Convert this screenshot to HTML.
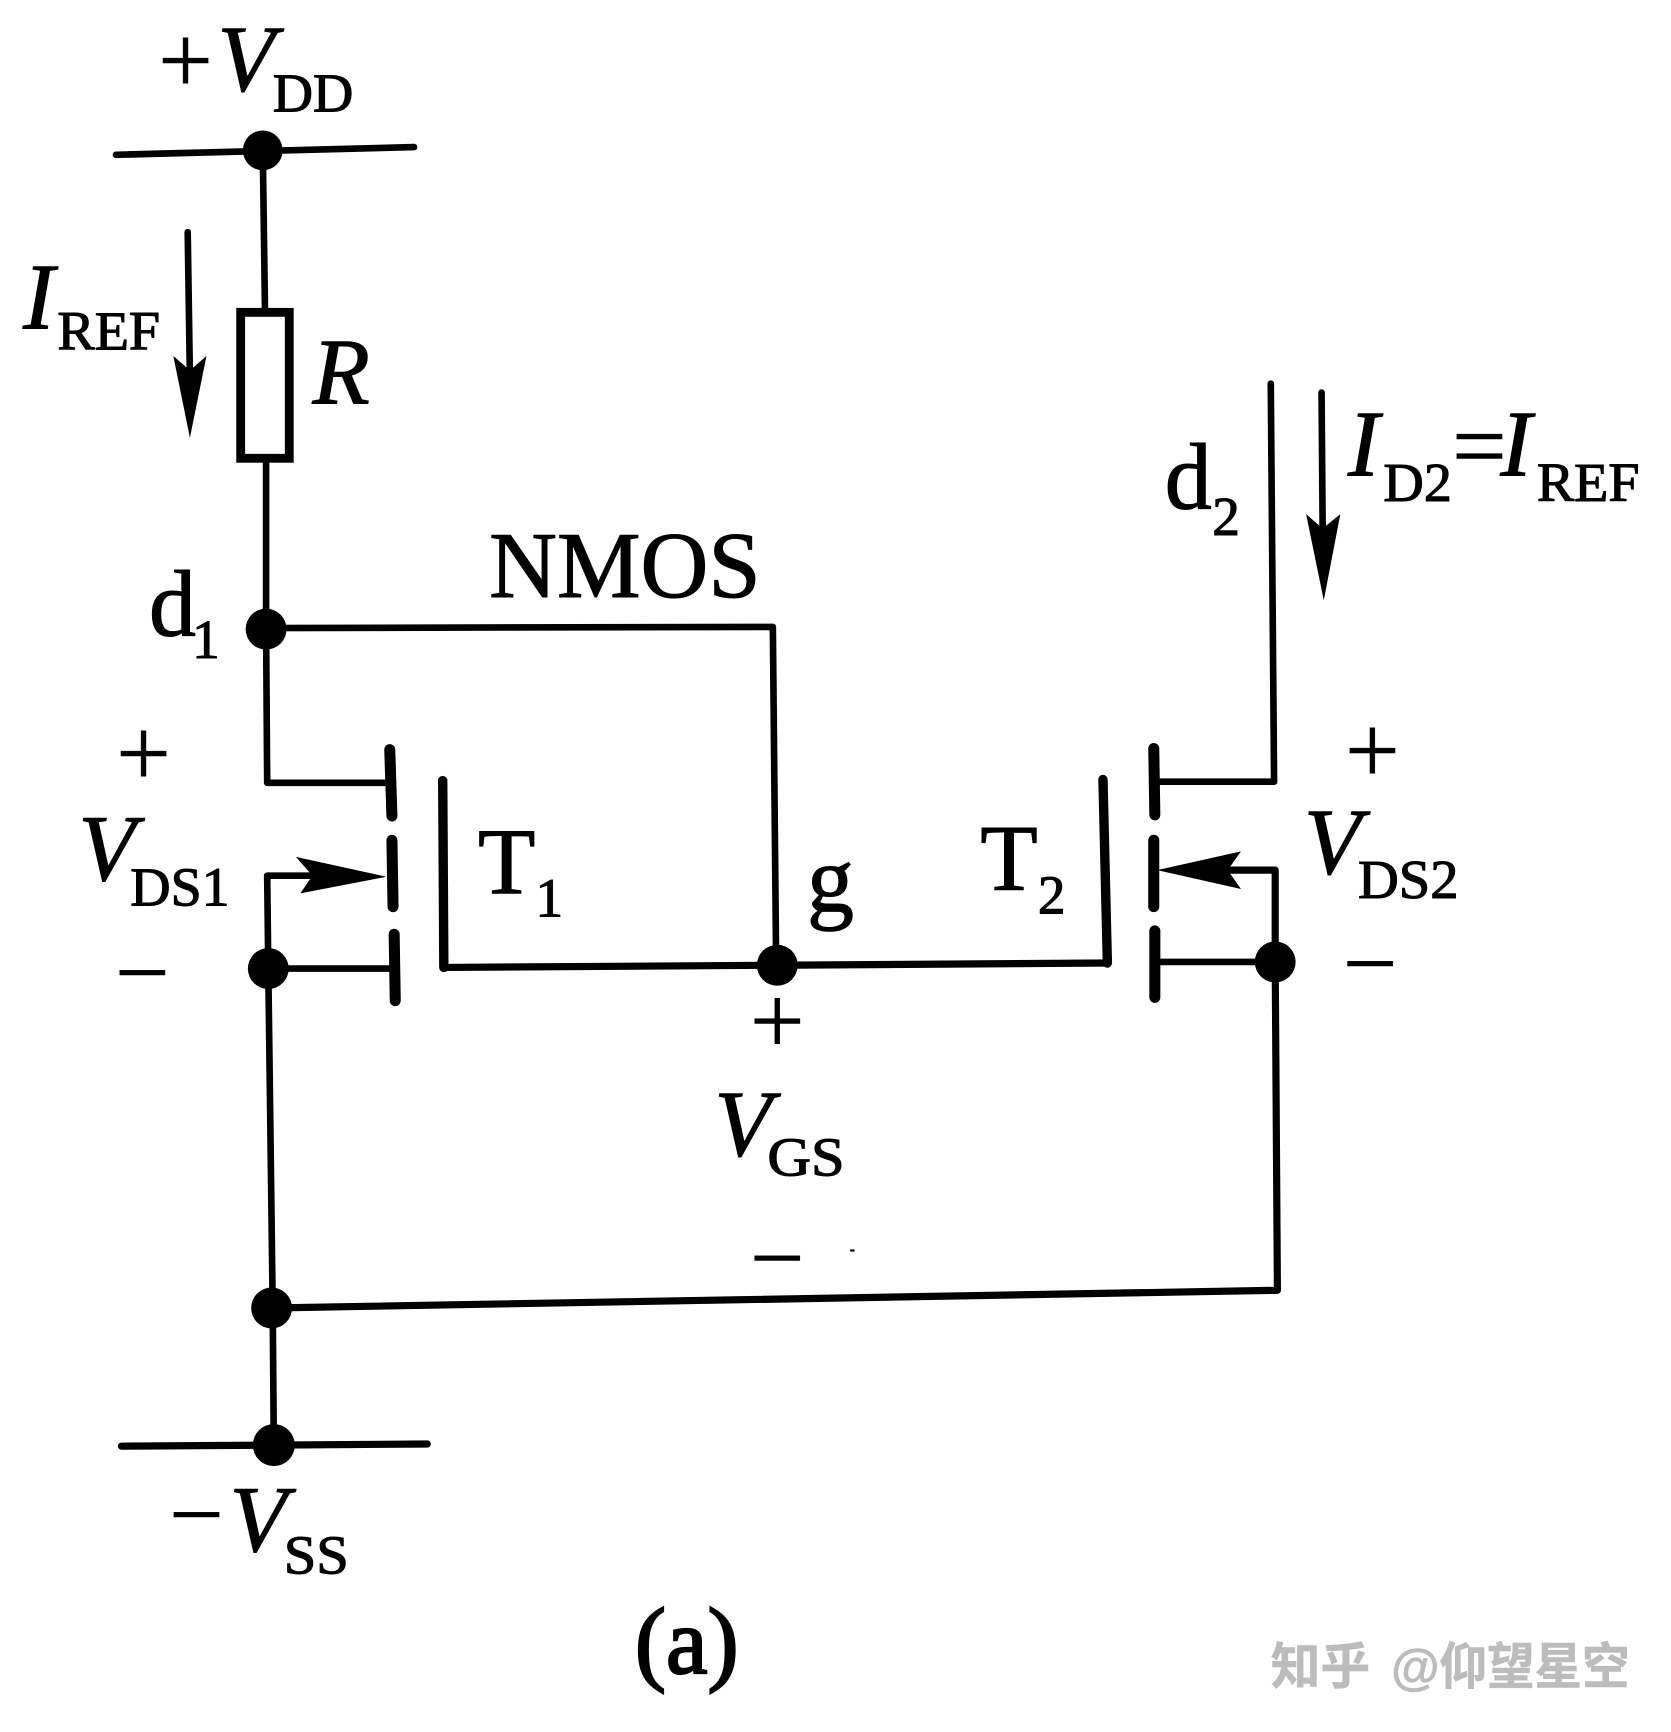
<!DOCTYPE html>
<html><head><meta charset="utf-8"><style>
html,body{margin:0;padding:0;background:#fff}
svg{display:block}
text{font-family:"Liberation Serif",serif;fill:#000;stroke:#000;stroke-width:1}
.m{font-size:85px}.i{font-size:85px;font-style:italic}.s{font-size:50px}
.p{font-size:88px;text-anchor:middle;stroke-width:.4}
.w{font-family:"Liberation Sans","Noto Sans CJK SC",sans-serif;fill:#bcbcbc;stroke:#bcbcbc;stroke-width:.5;font-size:45px;font-weight:700}
</style></head><body>
<svg width="1671" height="1732" viewBox="0 0 1513.500 1566.500" preserveAspectRatio="none" xmlns="http://www.w3.org/2000/svg">
<rect width="1520" height="1575" fill="#fff"/>
<g fill="none" stroke="#000" stroke-width="6" stroke-linecap="round" stroke-linejoin="round">
<path d="M105 140L375 133"/>
<path d="M238 136L240 280M241 418L241 569L242 708L352 708"/>
<path d="M241 568L700 567L703 873"/>
<path d="M404 875L704 873L1003 871" stroke-width="6.500"/>
<path d="M280 792L242 792L243 876L247 1183L248 1308" />
<path d="M243 876L355 876"/>
<path d="M110 1308L387 1306" stroke-width="6.500"/>
<path d="M246 1183L1157 1167L1155 870L1155 787L1110 787" stroke-width="6.500"/>
<path d="M1151 347L1154 707L1046 707"/>
<path d="M1046 870L1155 870"/>
<path d="M170 210L172 340M1197 355L1198 480"/>
<path d="M401 706L402 875M999 705L1003 871" stroke-width="8.500"/>
<path d="M353 678L355 738M355 760L356 820M357 845L358 905M1045 677L1046 737M1045 760L1045 820M1046 842L1046 902" stroke-width="10"/>
</g>
<rect x="218" y="282.500" width="44" height="132" fill="#fff" stroke="#000" stroke-width="8"/>
<g fill="#000">
<circle cx="238" cy="136" r="18"/><circle cx="241" cy="569" r="18.500"/><circle cx="243" cy="876" r="18.500"/>
<circle cx="246" cy="1183" r="18.500"/><circle cx="248" cy="1307" r="19"/><circle cx="704" cy="873" r="18.500"/><circle cx="1155" cy="870" r="18.500"/>
<polygon points="157,322 172,335 187,322 172,396"/>
<polygon points="1183,465 1198,478 1214,465 1199,543"/>
<polygon points="268,775 350,793 272,808 283,792"/>
<polygon points="1048,787 1124,770 1112,787 1124,804"/>
<rect x="770" y="1130" width="4" height="2"/>
</g>
<text class="p" x="168" y="84">+</text>
<text class="i" x="197" y="82">V</text><text class="s" x="247" y="101" textLength="73" lengthAdjust="spacingAndGlyphs">DD</text>
<text class="i" x="21" y="297">I</text><text class="s" x="52" y="316" textLength="93" lengthAdjust="spacingAndGlyphs">REF</text>
<text class="i" x="283" y="365">R</text>
<text class="m" x="135" y="575">d</text><text class="s" x="174" y="595">1</text>
<text class="m" x="443" y="540" textLength="246" lengthAdjust="spacingAndGlyphs">NMOS</text>
<text class="p" x="130" y="711">+</text>
<text class="i" x="71" y="796">V</text><text class="s" x="118" y="819" textLength="90" lengthAdjust="spacingAndGlyphs">DS1</text>
<text class="p" x="129" y="909">−</text>
<text class="m" x="433" y="808">T</text><text class="s" x="485" y="829">1</text>
<text class="m" x="731" y="824">g</text>
<text class="m" x="888" y="805">T</text><text class="s" x="940" y="826">2</text>
<text class="i" x="1181" y="790">V</text><text class="s" x="1230" y="812" textLength="91" lengthAdjust="spacingAndGlyphs">DS2</text>
<text class="p" x="1243" y="708">+</text>
<text class="p" x="1241" y="901">−</text>
<text class="m" x="1055" y="460">d</text><text class="s" x="1098" y="484">2</text>
<text class="i" x="1221" y="430">I</text><text class="s" x="1253" y="453" textLength="62" lengthAdjust="spacingAndGlyphs">D2</text>
<text class="p" x="1340" y="433">=</text>
<text class="i" x="1359" y="430">I</text><text class="s" x="1392" y="453" textLength="93" lengthAdjust="spacingAndGlyphs">REF</text>
<text class="p" x="704" y="953">+</text>
<text class="i" x="647" y="1045">V</text><text class="s" x="695" y="1063" textLength="70" lengthAdjust="spacingAndGlyphs">GS</text>
<text class="p" x="704" y="1167">−</text>
<text class="p" x="178" y="1399">−</text>
<text class="i" x="208" y="1403">V</text><text class="s" x="257" y="1423" textLength="59" lengthAdjust="spacingAndGlyphs">SS</text>
<text class="m" x="575" y="1513" textLength="94" lengthAdjust="spacingAndGlyphs" style="stroke-width:2">(a)</text>
<text class="w" x="1151" y="1523">知乎</text>
<text class="w" x="1260" y="1523">@</text>
<text class="w" x="1304" y="1523" textLength="172" lengthAdjust="spacingAndGlyphs">仰望星空</text>
</svg>
</body></html>
